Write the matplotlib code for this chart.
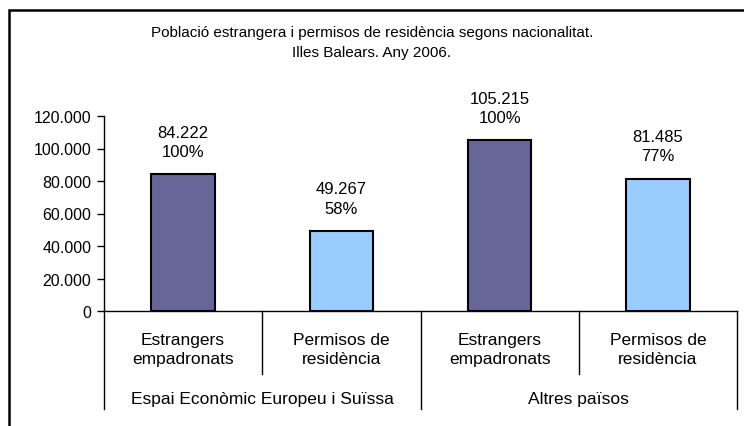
import matplotlib
matplotlib.use('Agg')
import matplotlib.pyplot as plt
from matplotlib.patches import Rectangle

plt.rcParams['font.family'] = ['Liberation Sans', 'DejaVu Sans']

# Data
categories = ['Estrangers\nempadronats', 'Permisos de\nresidència',
              'Estrangers\nempadronats', 'Permisos de\nresidència']
groups = ['Espai Econòmic Europeu i Suïssa', 'Altres països']
values = [84222, 49267, 105215, 81485]
value_labels = ['84.222', '49.267', '105.215', '81.485']
pct_labels = ['100%', '58%', '100%', '77%']
yticks = [0, 20000, 40000, 60000, 80000, 100000, 120000]
ytick_labels = ['0', '20.000', '40.000', '60.000', '80.000', '100.000', '120.000']

colors = ['#666699', '#99CCFF', '#666699', '#99CCFF']

fig = plt.figure(figsize=(7.44, 4.27), dpi=100)
ax = fig.add_axes([104 / 744, 1 - 312 / 427, (737 - 104) / 744, 195 / 427])

x = list(range(len(values)))
ax.bar(x, values, width=0.4, color=colors, edgecolor='black', linewidth=1.5, zorder=3)

for xi, v, vl, pl in zip(x, values, value_labels, pct_labels):
    ax.annotate(f'{vl}\n{pl}', (xi, v), xytext=(0, 11), textcoords='offset points',
                ha='center', va='bottom', fontsize=12, linespacing=1.35)

ax.set_xlim(-0.5, len(values) - 0.5)
ax.set_ylim(0, 120000)
ax.set_yticks(yticks)
ax.set_yticklabels(ytick_labels, fontsize=11.5)
ax.set_xticks([])
ax.tick_params(axis='y', direction='out', length=5, width=1, pad=4)

for s in ['top', 'right']:
    ax.spines[s].set_visible(False)
ax.spines['left'].set_linewidth(1)
ax.spines['bottom'].set_linewidth(1)

# Category labels and separators under the axis
trans = ax.get_xaxis_transform()
for xi, c in zip(x, categories):
    ax.text(xi, -0.195, c, transform=trans, ha='center', va='center',
            fontsize=12.5, linespacing=1.3)
for b in [0.5, 2.5]:
    ax.plot([b, b], [0, -0.325], transform=trans, color='black', lw=1, clip_on=False)
for b in [-0.5, 1.5, 3.5]:
    ax.plot([b, b], [0, -0.505], transform=trans, color='black', lw=1, clip_on=False)
for gi, g in enumerate(groups):
    ax.text(gi * 2 + 0.5, -0.45, g, transform=trans, ha='center', va='center', fontsize=12.5)

fig.text(0.5, 1 - 33 / 427, 'Població estrangera i permisos de residència segons nacionalitat.',
         ha='center', va='center', fontsize=11)
fig.text(0.5, 1 - 53 / 427, 'Illes Balears. Any 2006.', ha='center', va='center', fontsize=11)

# Outer chart border
fig.patches.append(Rectangle((9 / 744, -0.1), 1.2, 1 - 11 / 427 + 0.1,
                             transform=fig.transFigure, fill=False,
                             edgecolor='black', linewidth=1.8))

fig.savefig('out.png', dpi=100)
